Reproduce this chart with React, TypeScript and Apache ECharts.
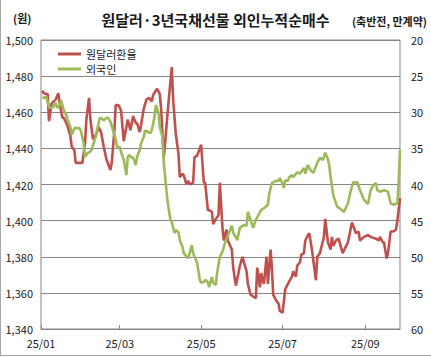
import React, { useEffect, useRef } from 'react';
import * as echarts from 'echarts';

const chartTitle = '원달러·3년국채선물 외인누적순매수';
const leftUnit = '(원)';
const rightUnit = '(축반전, 만계약)';
const seriesNames = ['원달러환율', '외국인'];
const labelMonths = ['01', '03', '05', '07', '09'];

const krwDates = [
  '01-02','01-03','01-06','01-07','01-09','01-12','01-14','01-15','01-17','01-18','01-20','01-21','01-23','01-24','01-26','01-27','01-30',
  '02-01','02-03','02-04','02-06','02-07','02-09','02-10','02-12','02-13','02-15','02-17','02-19','02-22','02-23','02-25','02-26','02-28',
  '03-02','03-04','03-06','03-07','03-09','03-11','03-13','03-14','03-16','03-17','03-19','03-21','03-23','03-25','03-26','03-28','03-29','03-31',
  '04-01','04-03','04-04','04-06','04-09','04-10','04-12','04-14','04-15','04-17','04-18','04-20','04-21','04-23','04-25','04-26','04-28','04-30',
  '05-01','05-03','05-04','05-06','05-09','05-10','05-12','05-14','05-15','05-17','05-18','05-20','05-21','05-24','05-25','05-27','05-29','05-30',
  '06-01','06-02','06-04','06-05','06-07','06-09','06-11','06-12','06-13','06-14','06-15','06-16','06-17','06-19','06-20','06-22','06-23','06-24','06-26','06-28','06-29',
  '07-01','07-03','07-05','07-08','07-09','07-11','07-12','07-14','07-15','07-17','07-18','07-20','07-21','07-23','07-26','07-27','07-29','07-31',
  '08-01','08-02','08-04','08-06','08-07','08-08','08-10','08-12','08-15','08-19','08-22','08-25','08-27','08-28','08-31',
  '09-03','09-05','09-09','09-11','09-12','09-14','09-15','09-17','09-18','09-20','09-22','09-24','09-25','09-27',
];
const krwValues = [
  1472,1470.5,1470,1455,1465,1467,1470.5,1465,1457,1457,1454,1452,1447,1441,1439,1432,1432,
  1432,1443,1456,1468,1456,1445,1446,1449,1452,1449,1441,1434,1428,1432,1450,1464,1464,
  1461,1444,1452,1456,1450,1458,1454,1454,1449,1453,1462,1467,1468,1466,1469.5,1472,1473,1470,
  1462,1435,1443,1461,1485,1467,1448,1437,1424,1426,1425,1420,1422,1420,1421,1435,1436,1440,
  1442,1421,1421,1406,1405,1398,1401,1403,1421,1396,1389,1395,1389,1384,1374,1364,1371,1375,
  1380,1377,1372,1365,1359,1358,1357,1374,1369,1363,1371,1367,1365,1380,1365,1384,1374,1359,1356,1354,1350,
  1349,1362,1365,1369,1372,1369,1375,1377,1381,1382,1389,1392,1393,1384,1367,1380,1382,1388,
  1391,1401,1388,1384,1391,1386,1389,1390,1382,1388,1399,1393,1394,1389,1391,
  1392,1391,1390,1389,1391,1388,1388,1379,1382,1394,1394,1395,1400,1412.5,
];

const frgDates = [
  '01-02','01-03','01-05','01-07','01-09','01-10','01-12','01-13','01-15','01-16','01-18','01-20','01-21','01-23','01-24','01-26','01-30','01-31',
  '02-02','02-03','02-05','02-06','02-08','02-09','02-11','02-12','02-14','02-15','02-17','02-19','02-20','02-22','02-24','02-26','02-27',
  '03-01','03-02','03-04','03-06','03-07','03-08','03-10','03-11','03-13','03-14','03-16','03-17','03-19','03-20','03-22','03-24','03-25','03-27','03-28','03-30','03-31',
  '04-02','04-03','04-05','04-06','04-08','04-09','04-11','04-12','04-14','04-15','04-17','04-18','04-21','04-22','04-24','04-25','04-27','04-28','04-30',
  '05-01','05-03','05-04','05-06','05-07','05-09','05-10','05-12','05-13','05-15','05-17','05-19','05-21','05-24','05-25','05-27','05-28','05-30',
  '06-02','06-04','06-05','06-07','06-09','06-11','06-13','06-15','06-17','06-20','06-21','06-23','06-26','06-28','06-29',
  '07-01','07-02','07-03','07-05','07-06','07-08','07-09','07-12','07-14','07-17','07-18','07-20','07-22','07-24','07-27','07-29','07-31',
  '08-01','08-02','08-04','08-05','08-06','08-08','08-11','08-13','08-16','08-19','08-21','08-23','08-26','08-28','08-31',
  '09-03','09-05','09-07','09-09','09-10','09-12','09-15','09-18','09-20','09-22','09-25','09-26','09-27',
];
const frgValues = [
  27.9,28.0,27.9,29.3,29.4,29.3,28.7,29.4,29.0,28.3,29.7,30.4,31.1,32.0,33.1,32.2,32.2,32.7,
  34.3,36.2,35.6,35.6,35.2,34.5,33.4,32.5,30.8,30.8,31.1,30.8,30.7,31.3,32.5,33.8,34.8,
  34.8,35.5,36.6,38.7,36.2,35.9,36.3,36.2,37.3,36.2,35.2,34.3,33.4,32.5,32.7,32.9,32.5,30.7,29.0,30.1,32.0,
  33.4,37.0,40.8,42.6,44.9,45.2,46.7,46.3,46.6,47.7,48.6,49.5,50.2,49.8,48.4,49.5,50.4,50.9,53.2,
  53.6,53.5,53.2,53.5,54.2,52.8,53.6,53.9,52.2,50.0,49.3,48.0,47.1,45.7,46.7,47.3,47.7,46.0,
  45.6,45.7,43.8,44.9,46.0,44.9,44.2,43.5,43.3,42.8,41.3,39.8,39.5,39.5,39.1,
  39.9,40.5,39.4,39.5,39.0,38.7,39.0,38.3,38.5,37.7,38.5,37.3,38.0,38.4,37.0,36.3,36.6,
  36.2,35.6,36.5,37.4,39.0,41.5,43.1,43.3,43.8,42.6,40.9,39.7,39.7,40.8,42.1,
  42.7,40.8,40.1,39.8,40.8,41.0,40.8,41.0,42.6,42.8,42.6,39.7,35.2,
];

const FONT = '"Noto Sans CJK KR", "Noto Sans", sans-serif';
const GRID_COLOR = '#868686';
const TEXT_COLOR = '#1a1a1a';

function buildDays(count: number): string[] {
  const out: string[] = [];
  const start = Date.UTC(2025, 0, 1);
  for (let i = 0; i < count; i++) {
    const d = new Date(start + i * 86400000);
    out.push(
      String(d.getUTCMonth() + 1).padStart(2, '0') + '-' + String(d.getUTCDate()).padStart(2, '0')
    );
  }
  return out;
}

export default function App() {
  const ref = useRef<HTMLDivElement>(null);

  useEffect(() => {
    if (!ref.current) return;
    const chart = echarts.init(ref.current, undefined, { renderer: 'svg' });
    const days = buildDays(270);
    const isLabelDay = (_i: number, v: string) =>
      v.endsWith('-01') && labelMonths.includes(v.slice(0, 2));

    chart.setOption({
      animation: false,
      backgroundColor: '#ffffff',
      textStyle: { fontFamily: FONT },
      title: {
        text: chartTitle,
        left: 'center',
        top: 7,
        textStyle: { fontFamily: FONT, fontSize: 15, fontWeight: 'bold', color: TEXT_COLOR },
      },
      legend: {
        data: seriesNames,
        orient: 'vertical',
        left: 53,
        top: 43,
        icon: 'rect',
        itemWidth: 23,
        itemHeight: 3,
        itemGap: 3,
        textStyle: { fontFamily: FONT, fontSize: 11, lineHeight: 12, color: TEXT_COLOR },
      },
      grid: {
        left: 41,
        right: 31,
        top: 40,
        bottom: 28,
        show: true,
        borderColor: GRID_COLOR,
        borderWidth: 1,
        backgroundColor: 'transparent',
      },
      xAxis: {
        type: 'category',
        data: days,
        boundaryGap: false,
        axisLine: { show: true, lineStyle: { color: GRID_COLOR } },
        axisTick: { show: true, inside: true, length: 4, interval: isLabelDay, lineStyle: { color: GRID_COLOR } },
        axisLabel: {
          interval: isLabelDay,
          formatter: (v: string) => '25/' + v.slice(0, 2),
          fontFamily: FONT,
          fontSize: 11,
          color: TEXT_COLOR,
          margin: 8,
        },
        splitLine: { show: false },
      },
      yAxis: [
        {
          type: 'value',
          min: 1340,
          max: 1500,
          interval: 20,
          axisLine: { show: false },
          axisTick: { show: false },
          axisLabel: {
            formatter: (v: number) => v.toLocaleString('en-US'),
            fontFamily: FONT,
            fontSize: 11,
            color: TEXT_COLOR,
            margin: 8,
          },
          splitLine: { show: true, lineStyle: { color: GRID_COLOR, width: 1 } },
        },
        {
          type: 'value',
          min: 20,
          max: 60,
          interval: 5,
          inverse: true,
          axisLine: { show: false },
          axisTick: { show: false },
          axisLabel: { fontFamily: FONT, fontSize: 11, color: TEXT_COLOR, margin: 11 },
          splitLine: { show: false },
        },
      ],
      series: [
        {
          name: seriesNames[0],
          type: 'line',
          yAxisIndex: 0,
          color: '#c0504d',
          symbol: 'none',
          lineStyle: { width: 2.6, color: '#c0504d' },
          data: krwDates.map((d, i) => [d, krwValues[i]]),
        },
        {
          name: seriesNames[1],
          type: 'line',
          yAxisIndex: 1,
          color: '#9bbb59',
          symbol: 'none',
          lineStyle: { width: 2.6, color: '#9bbb59' },
          data: frgDates.map((d, i) => [d, frgValues[i]]),
        },
      ],
      graphic: [
        {
          type: 'text',
          left: 13,
          top: 12,
          style: { text: leftUnit, fontFamily: FONT, fontSize: 11, fontWeight: 'bold', fill: TEXT_COLOR },
        },
        {
          type: 'text',
          right: 4,
          top: 15,
          style: { text: rightUnit, fontFamily: FONT, fontSize: 11, fontWeight: 'bold', fill: TEXT_COLOR },
        },
        {
          type: 'line',
          shape: { x1: 0.5, y1: 0, x2: 0.5, y2: 355.5 },
          style: { stroke: '#a6a6a6', lineWidth: 1 },
        },
        {
          type: 'line',
          shape: { x1: 0, y1: 355.5, x2: 431, y2: 355.5 },
          style: { stroke: '#a6a6a6', lineWidth: 1 },
        },
      ],
    });
    return () => chart.dispose();
  }, []);

  return (
    <div
      ref={ref}
      style={{ position: 'fixed', left: 0, top: 0, width: 431, height: 357, background: '#fff' }}
    />
  );
}
